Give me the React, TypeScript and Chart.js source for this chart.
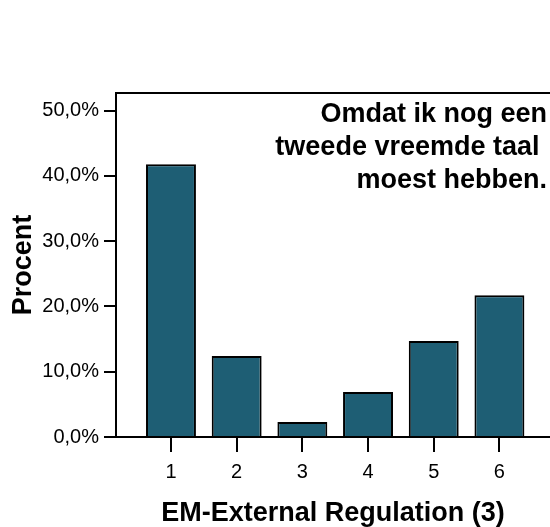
import React, { useEffect, useRef } from "react";
import { Chart, registerables } from "chart.js";

Chart.register(...registerables);

const categories = [1, 2, 3, 4, 5, 6];
const percentages = [41.8, 12.4, 2.3, 6.9, 14.7, 21.7];
const yTicks = [0, 10, 20, 30, 40, 50];
const annotationLines = ["Omdat ik nog een", "tweede vreemde taal ", "moest hebben."];
const xTitle = "EM-External Regulation (3)";
const yTitle = "Procent";

const FONT = "'Liberation Sans', Arial, Helvetica, sans-serif";
const BAR_COLOR = "#1e5e74";

const framePlugin = {
  id: "frameAndNote",
  afterDraw(chart: any) {
    const { ctx, chartArea } = chart;
    ctx.save();
    ctx.strokeStyle = "#000";
    ctx.lineWidth = 2;
    ctx.beginPath();
    ctx.moveTo(chartArea.left, chartArea.top);
    ctx.lineTo(chartArea.right, chartArea.top);
    ctx.stroke();
    ctx.font = `bold 27px ${FONT}`;
    ctx.textAlign = "right";
    ctx.textBaseline = "middle";
    ctx.fillStyle = "#000";
    annotationLines.forEach((t, i) => {
      ctx.fillText(t, chartArea.right - 3, chartArea.top + 22 + i * 33);
    });
    ctx.restore();
  },
};

export default function App() {
  const ref = useRef<HTMLCanvasElement>(null);
  useEffect(() => {
    if (!ref.current) return;
    Chart.defaults.font.family = FONT;
    const chart = new Chart(ref.current, {
      type: "bar",
      data: {
        datasets: [
          {
            data: categories.map((c, i) => ({ x: c, y: percentages[i] })),
            backgroundColor: BAR_COLOR,
            borderColor: "#000",
            borderWidth: 2,
            barPercentage: 0.76,
            categoryPercentage: 1,
          },
        ],
      },
      options: {
        responsive: false,
        animation: false,
        layout: { padding: { top: 93, right: 0, left: 0, bottom: 0 } },
        plugins: { legend: { display: false }, tooltip: { enabled: false } },
        scales: {
          x: {
            type: "linear",
            offset: false,
            min: 0.163,
            max: 6.77,
            afterBuildTicks: (s: any) => {
              s.ticks = categories.map((v) => ({ value: v }));
            },
            afterFit: (s: any) => {
              s.height = 90;
            },
            grid: {
              offset: false,
              drawOnChartArea: false,
              drawTicks: true,
              tickLength: 15,
              color: "#000",
              lineWidth: 2,
            },
            border: { display: true, color: "#000", width: 2 },
            ticks: {
              color: "#000",
              font: { size: 20 },
              padding: 8,
              maxRotation: 0,
              callback: (v: any) => String(v),
            },
            title: {
              display: true,
              text: xTitle,
              color: "#000",
              font: { size: 27, weight: "bold", lineHeight: 1 },
              padding: { top: 0, bottom: 0 },
            },
          },
          y: {
            min: 0,
            max: 52.7,
            afterBuildTicks: (s: any) => {
              s.ticks = yTicks.map((v) => ({ value: v }));
            },
            afterFit: (s: any) => {
              s.width = 116;
            },
            grid: {
              drawOnChartArea: false,
              drawTicks: true,
              tickLength: 12,
              color: "#000",
              lineWidth: 2,
            },
            border: { display: true, color: "#000", width: 2 },
            ticks: {
              color: "#000",
              font: { size: 20 },
              padding: 5,
              callback: (v: any) => Number(v).toFixed(1).replace(".", ",") + "%",
            },
            title: {
              display: true,
              text: yTitle,
              color: "#000",
              font: { size: 27, weight: "bold", lineHeight: 1 },
              padding: { top: 10, bottom: 0 },
            },
          },
        },
      },
      plugins: [framePlugin],
    } as any);
    return () => chart.destroy();
  }, []);
  return (
    <div style={{ position: "fixed", left: 0, top: 0, width: 550, height: 527, background: "#fff" }}>
      <canvas ref={ref} width={550} height={527} style={{ display: "block" }} />
    </div>
  );
}
